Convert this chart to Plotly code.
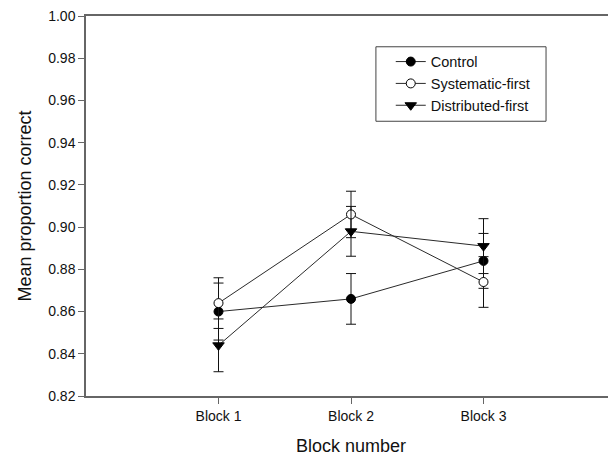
import plotly.graph_objects as go

blocks = ["Block 1", "Block 2", "Block 3"]
block_pos = [1, 2, 3]

control = [0.860, 0.866, 0.884]
control_err = [0.0135, 0.012, 0.013]
systematic = [0.864, 0.906, 0.874]
systematic_err = [0.012, 0.011, 0.012]
distributed = [0.844, 0.898, 0.891]
distributed_err = [0.0125, 0.0118, 0.013]

y_ticks = [0.82, 0.84, 0.86, 0.88, 0.90, 0.92, 0.94, 0.96, 0.98, 1.00]

fig = go.Figure()

def add(name, vals, errs, symbol, fill, size):
    fig.add_trace(go.Scatter(
        x=block_pos, y=vals, name=name, mode="lines+markers",
        line=dict(color="#2a2a2a", width=1),
        marker=dict(symbol=symbol, size=size, color=fill,
                    line=dict(color="black", width=1)),
        error_y=dict(type="data", array=errs, visible=True,
                     color="#111", thickness=1, width=5),
    ))

add("Control", control, control_err, "circle", "black", 9)
add("Systematic-first", systematic, systematic_err, "circle", "white", 9)
add("Distributed-first", distributed, distributed_err, "triangle-down", "black", 10)

# legend frame
fig.add_shape(type="rect", xref="paper", yref="paper",
              x0=0.547, x1=0.868, y0=0.723, y1=0.919,
              line=dict(color="#444", width=1), fillcolor="rgba(0,0,0,0)")

fig.update_layout(
    width=608, height=451,
    margin=dict(l=78, r=0, t=5, b=63),
    paper_bgcolor="white", plot_bgcolor="white",
    font=dict(family="Liberation Sans, Arial", size=14, color="#111"),
    showlegend=True,
    legend=dict(x=0.575, y=0.922, xanchor="left", yanchor="top",
                borderwidth=0, bgcolor="rgba(0,0,0,0)",
                font=dict(size=14.5), tracegroupgap=0),
)
fig.update_xaxes(
    range=[0, 4], tickvals=block_pos, ticktext=blocks,
    showline=True, linecolor="#666", linewidth=1.5, mirror=True,
    ticks="outside", ticklen=6, tickcolor="#666", showgrid=False, zeroline=False,
    title=dict(text="Block number", font=dict(size=18), standoff=17),
)
fig.update_yaxes(
    range=[0.82, 1.00], tickvals=y_ticks, tickformat=".2f",
    showline=True, linecolor="#666", linewidth=1.5,
    ticks="outside", ticklen=6, tickcolor="#666", showgrid=False, zeroline=False,
    ticklabeloverflow="allow",
    title=dict(text="Mean proportion correct", font=dict(size=18), standoff=12),
)

fig.write_html("out.html")
